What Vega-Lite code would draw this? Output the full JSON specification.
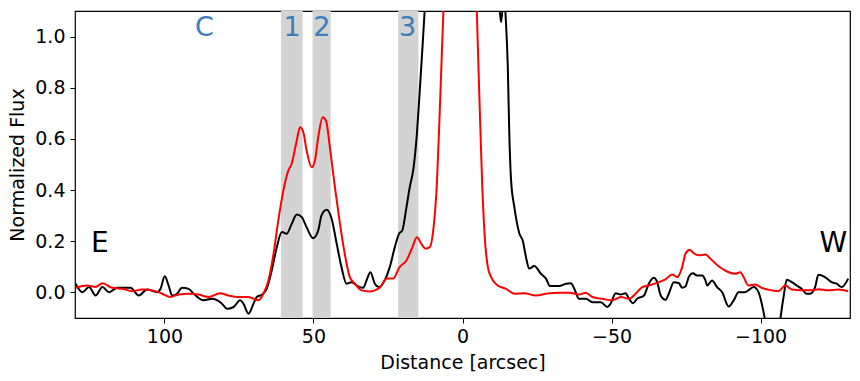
{
  "$schema": "https://vega.github.io/schema/vega-lite/v6.json",
  "width": 775,
  "height": 307,
  "autosize": {"type": "none"},
  "padding": {"left": 75, "top": 11, "right": 10, "bottom": 63},
  "background": "white",
  "config": {
    "view": {"stroke": "black", "strokeWidth": 1.2},
    "font": "DejaVu Sans",
    "axis": {
      "domain": false,
      "grid": false,
      "ticks": true,
      "tickColor": "black",
      "tickSize": 5,
      "tickWidth": 1,
      "labelFontSize": 19,
      "labelColor": "black",
      "titleFontSize": 19,
      "titleFontWeight": "normal",
      "titleColor": "black",
      "labelFont": "DejaVu Sans",
      "titleFont": "DejaVu Sans"
    }
  },
  "datasets": {
    "bands": [
      {"band": "1", "x0": 53.6, "x1": 60.9},
      {"band": "2", "x0": 44.2, "x1": 50.3},
      {"band": "3", "x0": 14.8, "x1": 21.6}
    ],
    "regions": [
      {"t": "C", "x": 86.6, "y": 1.035},
      {"t": "1", "x": 57.2, "y": 1.035},
      {"t": "2", "x": 47.2, "y": 1.035},
      {"t": "3", "x": 18.4, "y": 1.035}
    ],
    "sides": [
      {"t": "E", "x": 121.7, "y": 0.19},
      {"t": "W", "x": -124.4, "y": 0.19}
    ],
    "profiles": [
      {"s": "A", "x": 129.8, "y": 0.034},
      {"s": "A", "x": 127.5, "y": 0.001},
      {"s": "A", "x": 125.3, "y": 0.021},
      {"s": "A", "x": 123.1, "y": -0.012},
      {"s": "A", "x": 120.8, "y": 0.021},
      {"s": "A", "x": 118.6, "y": 0.001},
      {"s": "A", "x": 115.8, "y": 0.018},
      {"s": "A", "x": 113.6, "y": 0.018},
      {"s": "A", "x": 111.4, "y": 0.018},
      {"s": "A", "x": 108.6, "y": -0.012},
      {"s": "A", "x": 105.8, "y": 0.011},
      {"s": "A", "x": 102.4, "y": 0.001},
      {"s": "A", "x": 101.3, "y": 0.014},
      {"s": "A", "x": 99.9, "y": 0.063},
      {"s": "A", "x": 98.6, "y": 0.027},
      {"s": "A", "x": 97.4, "y": -0.012},
      {"s": "A", "x": 95.8, "y": -0.005},
      {"s": "A", "x": 94.1, "y": 0.018},
      {"s": "A", "x": 91.9, "y": 0.014},
      {"s": "A", "x": 90.2, "y": -0.005},
      {"s": "A", "x": 86.9, "y": -0.031},
      {"s": "A", "x": 84.0, "y": -0.025},
      {"s": "A", "x": 80.7, "y": -0.044},
      {"s": "A", "x": 79.0, "y": -0.064},
      {"s": "A", "x": 76.8, "y": -0.057},
      {"s": "A", "x": 74.6, "y": -0.031},
      {"s": "A", "x": 73.5, "y": -0.044},
      {"s": "A", "x": 71.8, "y": -0.083},
      {"s": "A", "x": 70.1, "y": -0.044},
      {"s": "A", "x": 69.0, "y": -0.018},
      {"s": "A", "x": 67.3, "y": -0.009},
      {"s": "A", "x": 65.7, "y": 0.014},
      {"s": "A", "x": 64.0, "y": 0.086},
      {"s": "A", "x": 62.3, "y": 0.177},
      {"s": "A", "x": 60.6, "y": 0.236},
      {"s": "A", "x": 59.0, "y": 0.229},
      {"s": "A", "x": 57.3, "y": 0.268},
      {"s": "A", "x": 55.6, "y": 0.305},
      {"s": "A", "x": 53.9, "y": 0.294},
      {"s": "A", "x": 52.3, "y": 0.255},
      {"s": "A", "x": 50.1, "y": 0.212},
      {"s": "A", "x": 48.4, "y": 0.242},
      {"s": "A", "x": 47.3, "y": 0.301},
      {"s": "A", "x": 45.6, "y": 0.323},
      {"s": "A", "x": 43.9, "y": 0.288},
      {"s": "A", "x": 42.2, "y": 0.19},
      {"s": "A", "x": 40.6, "y": 0.099},
      {"s": "A", "x": 38.9, "y": 0.034},
      {"s": "A", "x": 37.2, "y": 0.04},
      {"s": "A", "x": 35.0, "y": 0.023},
      {"s": "A", "x": 33.3, "y": 0.018},
      {"s": "A", "x": 32.2, "y": 0.047},
      {"s": "A", "x": 30.9, "y": 0.079},
      {"s": "A", "x": 29.4, "y": 0.034},
      {"s": "A", "x": 28.0, "y": 0.021},
      {"s": "A", "x": 26.1, "y": 0.047},
      {"s": "A", "x": 24.4, "y": 0.099},
      {"s": "A", "x": 22.7, "y": 0.177},
      {"s": "A", "x": 21.3, "y": 0.229},
      {"s": "A", "x": 20.2, "y": 0.242},
      {"s": "A", "x": 18.8, "y": 0.333},
      {"s": "A", "x": 17.7, "y": 0.411},
      {"s": "A", "x": 16.4, "y": 0.489},
      {"s": "A", "x": 15.3, "y": 0.62},
      {"s": "A", "x": 14.4, "y": 0.776},
      {"s": "A", "x": 13.5, "y": 0.945},
      {"s": "A", "x": 12.7, "y": 1.1},
      {"s": "A", "x": 10.0, "y": 1.8},
      {"s": "A", "x": 0.0, "y": 2.5},
      {"s": "A", "x": -10.0, "y": 1.8},
      {"s": "A", "x": -12.37, "y": 1.12},
      {"s": "A", "x": -12.94, "y": 1.056},
      {"s": "A", "x": -13.48, "y": 1.12},
      {"s": "A", "x": -13.9, "y": 1.2},
      {"s": "A", "x": -14.38, "y": 1.1},
      {"s": "A", "x": -15.2, "y": 0.88},
      {"s": "A", "x": -15.7, "y": 0.62},
      {"s": "A", "x": -16.3, "y": 0.438},
      {"s": "A", "x": -17.4, "y": 0.333},
      {"s": "A", "x": -19.1, "y": 0.229},
      {"s": "A", "x": -20.2, "y": 0.203},
      {"s": "A", "x": -21.3, "y": 0.138},
      {"s": "A", "x": -22.4, "y": 0.093},
      {"s": "A", "x": -24.1, "y": 0.103},
      {"s": "A", "x": -26.3, "y": 0.073},
      {"s": "A", "x": -28.0, "y": 0.054},
      {"s": "A", "x": -29.3, "y": 0.025},
      {"s": "A", "x": -32.4, "y": 0.025},
      {"s": "A", "x": -34.7, "y": 0.034},
      {"s": "A", "x": -36.4, "y": 0.036},
      {"s": "A", "x": -37.5, "y": 0.014},
      {"s": "A", "x": -39.1, "y": -0.025},
      {"s": "A", "x": -41.4, "y": -0.025},
      {"s": "A", "x": -43.6, "y": -0.038},
      {"s": "A", "x": -46.4, "y": -0.038},
      {"s": "A", "x": -48.6, "y": -0.057},
      {"s": "A", "x": -49.7, "y": -0.044},
      {"s": "A", "x": -51.4, "y": -0.003},
      {"s": "A", "x": -53.1, "y": -0.008},
      {"s": "A", "x": -54.7, "y": -0.003},
      {"s": "A", "x": -55.9, "y": -0.025},
      {"s": "A", "x": -57.2, "y": -0.042},
      {"s": "A", "x": -58.6, "y": -0.025},
      {"s": "A", "x": -60.9, "y": -0.012},
      {"s": "A", "x": -62.5, "y": 0.034},
      {"s": "A", "x": -64.2, "y": 0.057},
      {"s": "A", "x": -65.3, "y": 0.04},
      {"s": "A", "x": -66.5, "y": -0.012},
      {"s": "A", "x": -68.1, "y": -0.029},
      {"s": "A", "x": -69.2, "y": -0.005},
      {"s": "A", "x": -70.9, "y": 0.04},
      {"s": "A", "x": -72.6, "y": 0.036},
      {"s": "A", "x": -73.7, "y": 0.018},
      {"s": "A", "x": -74.8, "y": 0.023},
      {"s": "A", "x": -75.9, "y": 0.06},
      {"s": "A", "x": -77.3, "y": 0.075},
      {"s": "A", "x": -78.7, "y": 0.066},
      {"s": "A", "x": -80.4, "y": 0.066},
      {"s": "A", "x": -81.5, "y": 0.047},
      {"s": "A", "x": -82.1, "y": 0.027},
      {"s": "A", "x": -83.7, "y": 0.047},
      {"s": "A", "x": -85.4, "y": 0.021},
      {"s": "A", "x": -87.1, "y": 0.001},
      {"s": "A", "x": -89.3, "y": -0.055},
      {"s": "A", "x": -91.0, "y": -0.031},
      {"s": "A", "x": -92.6, "y": 0.001},
      {"s": "A", "x": -94.8, "y": 0.001},
      {"s": "A", "x": -97.7, "y": 0.021},
      {"s": "A", "x": -99.3, "y": 0.001},
      {"s": "A", "x": -100.4, "y": -0.044},
      {"s": "A", "x": -101.5, "y": -0.109},
      {"s": "A", "x": -103.3, "y": -0.3},
      {"s": "A", "x": -105.0, "y": -0.3},
      {"s": "A", "x": -106.6, "y": -0.109},
      {"s": "A", "x": -107.7, "y": -0.018},
      {"s": "A", "x": -108.8, "y": 0.05},
      {"s": "A", "x": -110.5, "y": 0.04},
      {"s": "A", "x": -112.1, "y": 0.027},
      {"s": "A", "x": -113.8, "y": 0.014},
      {"s": "A", "x": -115.4, "y": -0.005},
      {"s": "A", "x": -116.6, "y": -0.005},
      {"s": "A", "x": -118.3, "y": 0.021},
      {"s": "A", "x": -119.4, "y": 0.069},
      {"s": "A", "x": -121.6, "y": 0.06},
      {"s": "A", "x": -123.8, "y": 0.04},
      {"s": "A", "x": -125.5, "y": 0.034},
      {"s": "A", "x": -127.2, "y": 0.021},
      {"s": "A", "x": -129.4, "y": 0.054},
      {"s": "B", "x": 129.8, "y": 0.018},
      {"s": "B", "x": 125.9, "y": 0.027},
      {"s": "B", "x": 123.1, "y": 0.021},
      {"s": "B", "x": 120.8, "y": 0.036},
      {"s": "B", "x": 117.5, "y": 0.018},
      {"s": "B", "x": 114.1, "y": 0.014},
      {"s": "B", "x": 110.8, "y": 0.005},
      {"s": "B", "x": 107.5, "y": 0.011},
      {"s": "B", "x": 104.1, "y": 0.008},
      {"s": "B", "x": 100.8, "y": -0.005},
      {"s": "B", "x": 98.0, "y": -0.018},
      {"s": "B", "x": 95.2, "y": -0.008},
      {"s": "B", "x": 91.9, "y": -0.005},
      {"s": "B", "x": 88.5, "y": -0.008},
      {"s": "B", "x": 85.2, "y": -0.018},
      {"s": "B", "x": 81.3, "y": -0.003},
      {"s": "B", "x": 78.5, "y": -0.012},
      {"s": "B", "x": 75.2, "y": -0.018},
      {"s": "B", "x": 71.8, "y": -0.018},
      {"s": "B", "x": 68.5, "y": -0.031},
      {"s": "B", "x": 66.8, "y": -0.005},
      {"s": "B", "x": 65.1, "y": 0.047},
      {"s": "B", "x": 63.4, "y": 0.151},
      {"s": "B", "x": 61.8, "y": 0.281},
      {"s": "B", "x": 60.1, "y": 0.398},
      {"s": "B", "x": 58.4, "y": 0.477},
      {"s": "B", "x": 57.3, "y": 0.503},
      {"s": "B", "x": 55.6, "y": 0.594},
      {"s": "B", "x": 54.5, "y": 0.646},
      {"s": "B", "x": 53.4, "y": 0.626},
      {"s": "B", "x": 52.3, "y": 0.555},
      {"s": "B", "x": 50.6, "y": 0.489},
      {"s": "B", "x": 49.5, "y": 0.516},
      {"s": "B", "x": 48.4, "y": 0.607},
      {"s": "B", "x": 46.9, "y": 0.685},
      {"s": "B", "x": 45.8, "y": 0.672},
      {"s": "B", "x": 44.5, "y": 0.568},
      {"s": "B", "x": 42.8, "y": 0.411},
      {"s": "B", "x": 41.1, "y": 0.268},
      {"s": "B", "x": 39.5, "y": 0.151},
      {"s": "B", "x": 37.8, "y": 0.06},
      {"s": "B", "x": 36.1, "y": 0.034},
      {"s": "B", "x": 33.9, "y": 0.008},
      {"s": "B", "x": 31.1, "y": 0.004},
      {"s": "B", "x": 27.8, "y": 0.018},
      {"s": "B", "x": 25.5, "y": 0.054},
      {"s": "B", "x": 23.3, "y": 0.054},
      {"s": "B", "x": 21.1, "y": 0.099},
      {"s": "B", "x": 18.8, "y": 0.125},
      {"s": "B", "x": 16.8, "y": 0.177},
      {"s": "B", "x": 15.3, "y": 0.216},
      {"s": "B", "x": 13.8, "y": 0.19},
      {"s": "B", "x": 12.4, "y": 0.171},
      {"s": "B", "x": 11.0, "y": 0.177},
      {"s": "B", "x": 9.7, "y": 0.255},
      {"s": "B", "x": 8.6, "y": 0.425},
      {"s": "B", "x": 7.7, "y": 0.685},
      {"s": "B", "x": 6.9, "y": 0.945},
      {"s": "B", "x": 6.4, "y": 1.1},
      {"s": "B", "x": 3.0, "y": 2.0},
      {"s": "B", "x": 0.0, "y": 2.5},
      {"s": "B", "x": -3.0, "y": 2.0},
      {"s": "B", "x": -4.8, "y": 1.1},
      {"s": "B", "x": -5.7, "y": 0.75},
      {"s": "B", "x": -6.6, "y": 0.425},
      {"s": "B", "x": -7.4, "y": 0.229},
      {"s": "B", "x": -8.5, "y": 0.099},
      {"s": "B", "x": -9.6, "y": 0.06},
      {"s": "B", "x": -11.8, "y": 0.027},
      {"s": "B", "x": -14.6, "y": 0.014},
      {"s": "B", "x": -17.4, "y": -0.005},
      {"s": "B", "x": -20.7, "y": -0.003},
      {"s": "B", "x": -24.6, "y": -0.012},
      {"s": "B", "x": -29.1, "y": -0.003},
      {"s": "B", "x": -32.4, "y": -0.001},
      {"s": "B", "x": -35.8, "y": -0.001},
      {"s": "B", "x": -39.1, "y": -0.008},
      {"s": "B", "x": -41.4, "y": -0.001},
      {"s": "B", "x": -43.6, "y": -0.018},
      {"s": "B", "x": -46.9, "y": -0.025},
      {"s": "B", "x": -50.3, "y": -0.031},
      {"s": "B", "x": -53.1, "y": -0.018},
      {"s": "B", "x": -55.9, "y": -0.025},
      {"s": "B", "x": -58.1, "y": -0.005},
      {"s": "B", "x": -60.3, "y": 0.021},
      {"s": "B", "x": -62.5, "y": 0.027},
      {"s": "B", "x": -65.9, "y": 0.04},
      {"s": "B", "x": -68.1, "y": 0.051},
      {"s": "B", "x": -70.3, "y": 0.07},
      {"s": "B", "x": -72.0, "y": 0.06},
      {"s": "B", "x": -73.7, "y": 0.099},
      {"s": "B", "x": -74.8, "y": 0.151},
      {"s": "B", "x": -76.2, "y": 0.167},
      {"s": "B", "x": -77.6, "y": 0.153},
      {"s": "B", "x": -79.3, "y": 0.145},
      {"s": "B", "x": -81.5, "y": 0.148},
      {"s": "B", "x": -83.2, "y": 0.132},
      {"s": "B", "x": -85.9, "y": 0.102},
      {"s": "B", "x": -89.3, "y": 0.079},
      {"s": "B", "x": -91.5, "y": 0.073},
      {"s": "B", "x": -93.2, "y": 0.079},
      {"s": "B", "x": -94.3, "y": 0.06},
      {"s": "B", "x": -95.9, "y": 0.027},
      {"s": "B", "x": -98.2, "y": 0.031},
      {"s": "B", "x": -100.4, "y": 0.018},
      {"s": "B", "x": -103.8, "y": 0.008},
      {"s": "B", "x": -106.0, "y": 0.005},
      {"s": "B", "x": -108.3, "y": 0.027},
      {"s": "B", "x": -110.5, "y": 0.011},
      {"s": "B", "x": -113.8, "y": 0.008},
      {"s": "B", "x": -117.2, "y": 0.008},
      {"s": "B", "x": -119.4, "y": 0.012},
      {"s": "B", "x": -122.7, "y": 0.008},
      {"s": "B", "x": -126.1, "y": 0.011},
      {"s": "B", "x": -129.4, "y": 0.004}
    ]
  },
  "layer": [
    {
      "data": {"name": "bands"},
      "mark": {"type": "rect", "color": "#d3d3d3", "opacity": 1},
      "encoding": {
        "x": {
          "field": "x0",
          "type": "quantitative",
          "scale": {"domain": [-130, 130], "reverse": true, "nice": false, "zero": false},
          "axis": {"values": [100, 50, 0, -50, -100], "title": "Distance [arcsec]", "labelPadding": 4, "titlePadding": 7, "labelFlush": false}
        },
        "x2": {"field": "x1"}
      }
    },
    {
      "data": {"name": "profiles"},
      "mark": {"type": "line", "clip": true, "strokeWidth": 2, "interpolate": "monotone"},
      "encoding": {
        "x": {"field": "x", "type": "quantitative"},
        "y": {
          "field": "y",
          "type": "quantitative",
          "scale": {"domain": [-0.1, 1.1], "nice": false, "zero": false},
          "axis": {"values": [0, 0.2, 0.4, 0.6, 0.8, 1.0], "format": ".1f", "title": "Normalized Flux", "labelPadding": 5, "titlePadding": 7}
        },
        "color": {
          "field": "s",
          "type": "nominal",
          "scale": {"domain": ["A", "B"], "range": ["#000000", "#ff0000"]},
          "legend": null
        }
      }
    },
    {
      "data": {"name": "regions"},
      "mark": {"type": "text", "fontSize": 27, "color": "#3b7dbb", "align": "center", "baseline": "middle"},
      "encoding": {
        "x": {"field": "x", "type": "quantitative"},
        "y": {"field": "y", "type": "quantitative"},
        "text": {"field": "t"}
      }
    },
    {
      "data": {"name": "sides"},
      "mark": {"type": "text", "fontSize": 28, "color": "black", "align": "center", "baseline": "middle"},
      "encoding": {
        "x": {"field": "x", "type": "quantitative"},
        "y": {"field": "y", "type": "quantitative"},
        "text": {"field": "t"}
      }
    }
  ]
}
